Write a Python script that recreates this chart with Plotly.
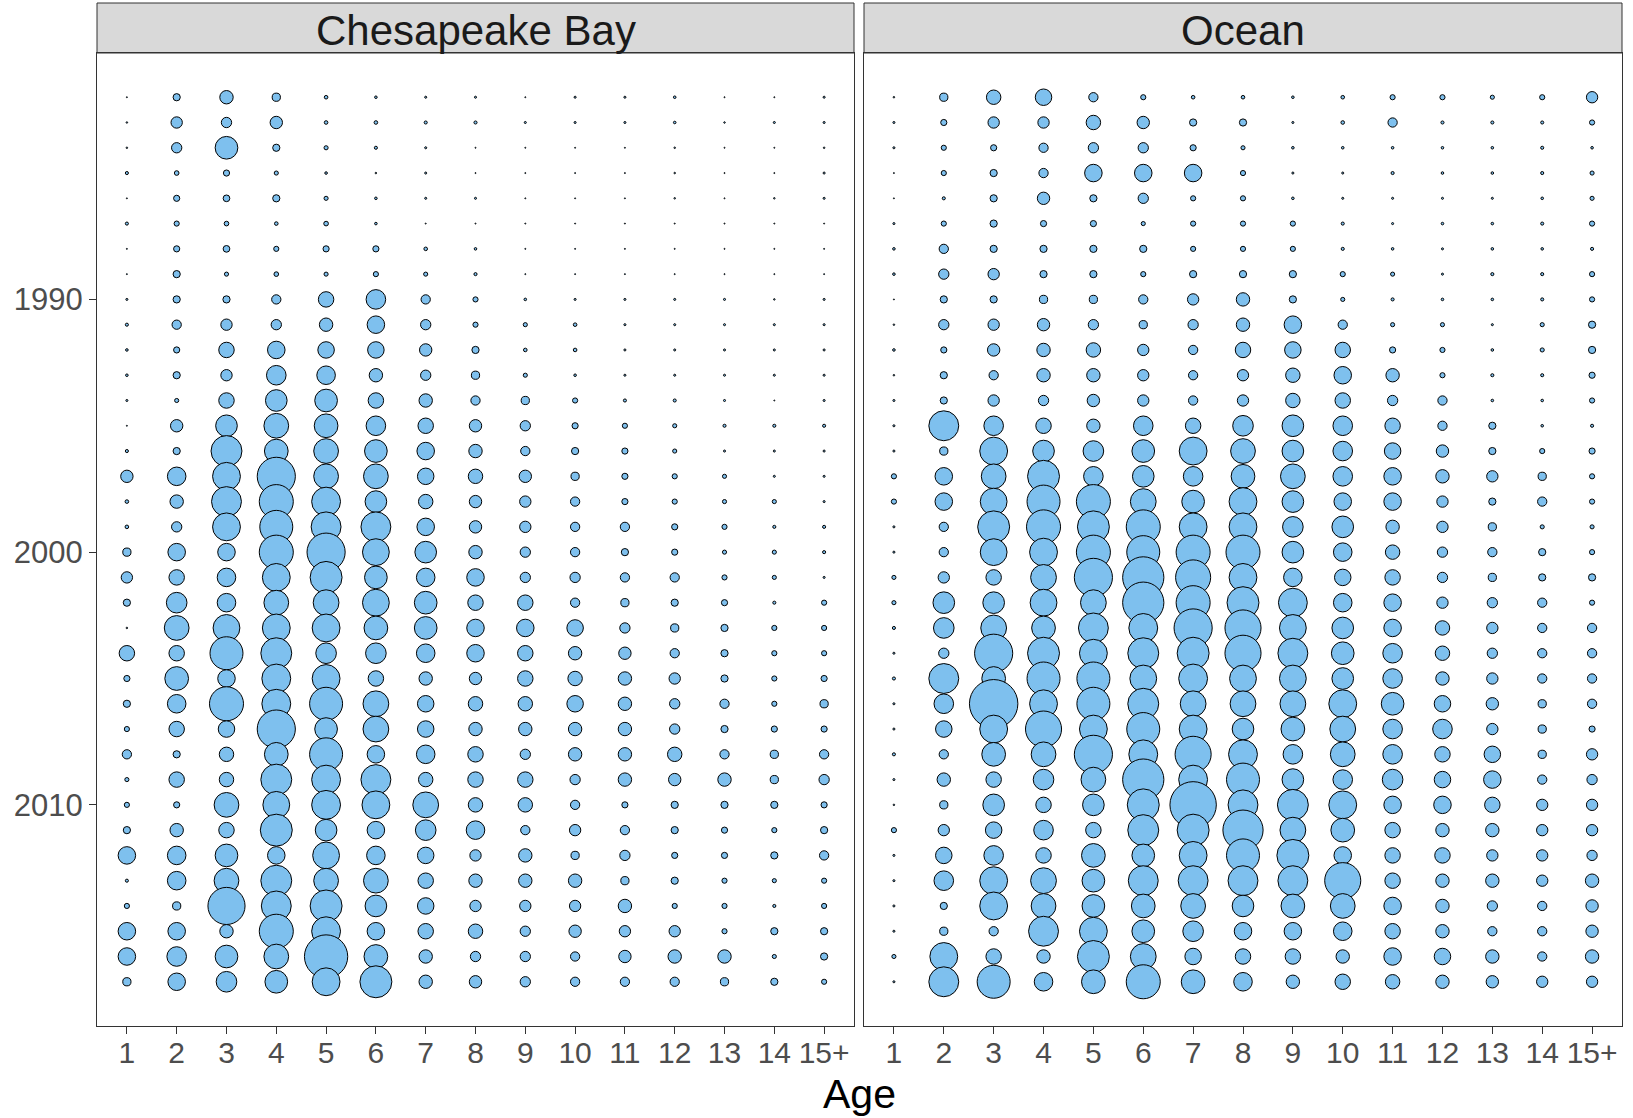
import plotly.graph_objects as go

# Age classes and survey years
ages = ["1", "2", "3", "4", "5", "6", "7", "8", "9", "10", "11", "12", "13", "14", "15+"]
years = list(range(1982, 2018))

# Relative catch-at-age index (bubble diameter), one row per year, ages 1..15+
chesapeake_bay = [
    [1, 7, 13, 8, 3.5, 2.5, 2, 2, 1, 2, 2, 2.5, 1, 1, 2],          # 1982
    [1.5, 11, 10, 12, 3.5, 3.5, 3, 3, 2, 2, 2, 2.5, 1.5, 2, 2],    # 1983
    [1.5, 10, 22, 7, 4, 3, 2, 1, 1, 1, 1, 1.5, 1, 1, 1.5],         # 1984
    [3, 4.5, 6, 4, 2.5, 1.5, 2, 1, 1, 1, 1, 1.5, 1, 1, 2],         # 1985
    [1, 6, 6.5, 7, 4, 2.5, 2, 2, 1, 1, 1, 1.5, 1, 1.5, 2],         # 1986
    [3, 5, 4.5, 3.5, 4.5, 2.5, 1, 1, 1, 1, 1, 1, 1, 1, 1],         # 1987
    [1, 6, 6.5, 5, 6, 6, 3.5, 2.5, 1, 1, 1, 1, 1, 1, 1],           # 1988
    [1, 7, 4, 4.5, 4, 5, 4, 3, 1, 1, 1, 1, 1, 1, 1],               # 1989
    [2, 7, 7, 9, 15, 19, 9, 5, 2.5, 2, 2, 2, 2, 1.5, 2],           # 1990
    [3, 9, 11, 10, 13, 17, 10, 5, 4, 3.5, 2, 2, 2, 2, 2],          # 1991
    [2.5, 6, 15, 17, 16, 16, 12, 7, 3.5, 3.5, 2, 2, 2, 2, 2],      # 1992
    [2.5, 7, 11, 19, 18, 13, 10, 8, 4, 2.5, 2, 2, 2, 2, 2],        # 1993
    [2, 4, 15, 21, 22, 15, 13, 9, 8, 5, 3, 3, 2, 1, 2],            # 1994
    [1, 12, 21, 24, 23, 19, 15, 12, 10, 6, 5, 4, 3, 3, 3],         # 1995
    [3, 7, 30, 23, 24, 22, 17, 13, 9, 7, 6, 4, 2, 2, 2],           # 1996
    [12, 18, 27, 37, 24, 24, 16, 14, 12, 8, 6, 5, 4, 2, 2],        # 1997
    [3.5, 13, 29, 33, 28, 21, 14, 12, 11, 9, 6, 5, 4, 4, 2],       # 1998
    [3.5, 10, 27, 32, 29, 29, 17, 12, 11, 9, 9, 6, 5, 3, 3],       # 1999
    [8, 17, 17, 33, 37, 26, 21, 13, 10, 9, 7, 6, 4, 4, 3],         # 2000
    [11, 15, 18, 27, 31, 22, 18, 17, 10, 10, 9, 9, 5, 4, 2],       # 2001
    [7, 20, 18, 24, 25, 26, 22, 15, 15, 9, 8, 7, 6, 3, 5],         # 2002
    [1.5, 24, 26, 27, 27, 23, 22, 17, 17, 16, 10, 8, 7, 5, 5],     # 2003
    [15, 15, 32, 30, 20, 20, 18, 17, 15, 13, 12, 9, 7, 5, 5],      # 2004
    [6, 23, 17, 28, 27, 15, 13, 12, 15, 14, 13, 11, 7, 5, 6],      # 2005
    [7, 18, 33, 28, 32, 25, 16, 14, 14, 16, 13, 10, 9, 5, 8],      # 2006
    [5, 15, 16, 37, 22, 25, 16, 13, 13, 13, 13, 10, 7, 6, 6],      # 2007
    [9, 7, 14, 23, 32, 17, 18, 15, 10, 13, 13, 14, 9, 8, 9],       # 2008
    [4, 15, 14, 30, 28, 29, 14, 15, 15, 10, 13, 12, 13, 8, 10],    # 2009
    [5, 6, 24, 26, 28, 27, 25, 14, 14, 9, 6, 7, 7, 7, 6],          # 2010
    [7, 13, 15, 31, 21, 17, 20, 18, 9, 11, 9, 7, 6, 5, 7],         # 2011
    [17, 18, 22, 17, 26, 18, 16, 11, 13, 8, 10, 6, 6, 7, 9],       # 2012
    [3, 18, 24, 30, 24, 24, 15, 13, 13, 13, 8, 7, 5, 4, 5],        # 2013
    [5, 8, 36, 29, 31, 21, 16, 11, 11, 11, 13, 5, 5, 3, 5],        # 2014
    [17, 17, 13, 33, 28, 17, 15, 14, 10, 12, 11, 11, 5, 7, 7],     # 2015
    [17, 19, 22, 24, 42, 23, 13, 10, 10, 9, 12, 13, 13, 4, 7],     # 2016
    [8, 17, 20, 22, 27, 31, 13, 12, 10, 9, 9, 9, 8, 7, 5],         # 2017
]

ocean = [
    [1.5, 8, 14, 16, 9, 5, 3.5, 3.5, 2.5, 3.5, 5, 5, 4, 5, 11],    # 1982
    [2, 6, 11, 11, 14, 12, 7, 7, 2, 3.5, 9, 3, 3, 3, 5],           # 1983
    [2, 5, 6, 9, 10, 10, 6, 4, 2.5, 2.5, 2.5, 2.5, 2.5, 3, 2.5],   # 1984
    [1, 5, 7, 9, 17, 17, 17, 5, 2, 2, 3, 2.5, 2.5, 3, 4],          # 1985
    [1, 3, 7, 12, 7, 10, 5, 5, 2.5, 2, 2, 2, 2, 2.5, 4],           # 1986
    [2, 5, 7, 6, 6, 4, 5, 5, 5, 3, 2, 2.5, 2.5, 3, 5],             # 1987
    [2.5, 9, 7, 7, 7, 7, 5, 5, 5, 3, 2.5, 2, 2.5, 2.5, 3],         # 1988
    [2.5, 10, 11, 7, 7, 5, 7, 7, 7, 5, 4, 2, 3, 3, 5],             # 1989
    [1, 7, 7, 8, 8, 9, 11, 13, 7, 4, 3, 2.5, 2.5, 3, 5],           # 1990
    [1.5, 10, 11, 12, 10, 8, 10, 13, 17, 9, 4, 4, 2, 4, 7],        # 1991
    [2.5, 6, 12, 13, 14, 11, 9, 15, 16, 15, 6, 5, 2.5, 4, 7],      # 1992
    [1.5, 7, 9, 13, 13, 11, 9, 11, 14, 17, 13, 5, 3, 3, 6],        # 1993
    [2, 7, 11, 10, 12, 11, 9, 11, 14, 15, 10, 9, 2.5, 2.5, 5],     # 1994
    [2, 29, 19, 15, 13, 19, 15, 20, 21, 19, 15, 9, 7, 2.5, 3],     # 1995
    [2, 8, 27, 21, 20, 22, 27, 24, 21, 19, 16, 12, 7, 5, 6],       # 1996
    [5, 17, 24, 31, 19, 21, 19, 23, 24, 19, 17, 13, 11, 8, 5],     # 1997
    [5, 17, 26, 32, 33, 25, 22, 27, 21, 17, 17, 11, 7, 9, 5],      # 1998
    [2, 9, 31, 33, 31, 33, 27, 27, 20, 21, 13, 11, 8, 4, 4],       # 1999
    [2, 9, 26, 27, 33, 32, 33, 33, 21, 18, 14, 10, 9, 7, 5],       # 2000
    [4, 11, 15, 25, 37, 40, 34, 27, 18, 16, 15, 10, 8, 7, 7],      # 2001
    [4, 21, 21, 26, 25, 40, 33, 31, 28, 18, 17, 11, 10, 9, 5],     # 2002
    [3, 20, 25, 23, 29, 28, 37, 35, 26, 21, 17, 14, 11, 9, 9],     # 2003
    [2, 10, 37, 31, 27, 30, 31, 35, 29, 22, 19, 14, 10, 9, 9],     # 2004
    [3, 29, 23, 32, 32, 26, 28, 26, 26, 21, 19, 13, 11, 9, 9],     # 2005
    [2, 19, 47, 27, 32, 30, 25, 25, 25, 27, 22, 16, 12, 8, 9],     # 2006
    [2, 16, 27, 35, 27, 32, 27, 21, 23, 25, 19, 19, 11, 8, 6],     # 2007
    [3, 9, 23, 24, 37, 28, 35, 28, 19, 24, 19, 15, 16, 8, 11],     # 2008
    [2, 13, 15, 20, 24, 40, 28, 32, 21, 19, 20, 16, 17, 9, 10],    # 2009
    [1.5, 8, 21, 15, 21, 31, 45, 29, 30, 27, 17, 17, 15, 11, 11],  # 2010
    [5, 11, 16, 19, 15, 30, 31, 39, 25, 23, 15, 13, 13, 11, 11],   # 2011
    [2, 16, 19, 15, 23, 22, 27, 32, 31, 17, 15, 15, 11, 11, 10],   # 2012
    [2, 19, 27, 25, 22, 29, 29, 29, 29, 35, 15, 13, 13, 11, 13],   # 2013
    [2, 7, 27, 24, 22, 23, 24, 21, 23, 24, 17, 13, 10, 9, 12],     # 2014
    [2, 8, 9, 29, 27, 22, 20, 17, 17, 18, 15, 13, 9, 9, 12],       # 2015
    [4, 27, 15, 13, 31, 25, 16, 15, 15, 13, 17, 16, 13, 9, 13],    # 2016
    [2, 29, 32, 18, 23, 33, 23, 18, 13, 15, 14, 13, 12, 11, 11],   # 2017
]

panels = [("Chesapeake Bay", chesapeake_bay), ("Ocean", ocean)]

FONT = "Liberation Sans, Arial, sans-serif"
FILL = "#7EC0EE"       # skyblue2
BORDER = "#333333"
STRIP_FILL = "#D9D9D9"
TICK_TEXT = "#4D4D4D"

W, H = 1633, 1118
M_L, M_R, M_T, M_B = 97, 11, 53, 92
plot_w = W - M_L - M_R
plot_h = H - M_T - M_B
dom_left = [0.0, (854 - M_L) / plot_w]
dom_right = [(864 - M_L) / plot_w, 1.0]
domains = [dom_left, dom_right]

fig = go.Figure()

for i, (name, table) in enumerate(panels):
    xs, ys, vals = [], [], []
    for yr, row in zip(years, table):
        for a, v in enumerate(row):
            xs.append(a + 1)
            ys.append(yr)
            vals.append(v)
    fig.add_trace(go.Scatter(
        x=xs, y=ys, mode="markers",
        xaxis="x" if i == 0 else "x2",
        yaxis="y" if i == 0 else "y2",
        marker=dict(size=vals, sizemode="diameter", sizeref=0.97,
                    color=FILL, opacity=1,
                    line=dict(color="black", width=1)),
        hovertemplate=name + "<br>Age %{x}<br>%{y}<extra></extra>",
        showlegend=False,
    ))

xaxis_common = dict(
    range=[0.4, 15.6], tickmode="array",
    tickvals=list(range(1, len(ages) + 1)), ticktext=ages,
    ticks="outside", ticklen=7, tickwidth=1, tickcolor=BORDER,
    tickfont=dict(family=FONT, size=30, color=TICK_TEXT),
    showgrid=False, zeroline=False, automargin=False,
    showline=True, mirror=True, linecolor=BORDER, linewidth=1,
    ticklabelstandoff=-7,
)
yaxis_common = dict(
    range=[2018.75, 1980.25],
    tickmode="array", tickvals=[1990, 2000, 2010],
    ticks="outside", ticklen=7, tickwidth=1, tickcolor=BORDER,
    tickfont=dict(family=FONT, size=31, color=TICK_TEXT),
    showgrid=False, zeroline=False, automargin=False,
    showline=True, mirror=True, linecolor=BORDER, linewidth=1,
)

fig.update_layout(
    width=W, height=H,
    margin=dict(l=M_L, r=M_R, t=M_T, b=M_B, pad=0, autoexpand=False),
    paper_bgcolor="white", plot_bgcolor="white",
    font=dict(family=FONT),
    xaxis=dict(domain=dom_left, anchor="y", **xaxis_common),
    xaxis2=dict(domain=dom_right, anchor="y2", **xaxis_common),
    yaxis=dict(anchor="x", ticklabelstandoff=0, **yaxis_common),
    yaxis2=dict(anchor="x2", matches="y", showticklabels=False,
                **{k: v for k, v in yaxis_common.items() if k not in ("ticks",)},
                ticks=""),
)

# Facet strips
strip_h = 50 / plot_h
for (name, _), dom in zip(panels, domains):
    fig.add_shape(type="rect", xref="paper", yref="paper",
                  x0=dom[0], x1=dom[1], y0=1.0, y1=1.0 + strip_h,
                  fillcolor=STRIP_FILL, line=dict(color=BORDER, width=1),
                  layer="below")
    fig.add_annotation(x=(dom[0] + dom[1]) / 2, y=1.0 + strip_h / 2 - 3 / plot_h,
                       xref="paper", yref="paper", text=name, showarrow=False,
                       xanchor="center", yanchor="middle",
                       font=dict(family=FONT, size=42, color="#1A1A1A"))

# Shared x-axis title, placed in pixels below the panels
fig.add_annotation(x=0.5, y=0, xref="paper", yref="paper",
                   text="Age", showarrow=False,
                   xanchor="center", yanchor="middle", yshift=-68,
                   font=dict(family=FONT, size=41, color="black"))

fig.write_html("out.html")
